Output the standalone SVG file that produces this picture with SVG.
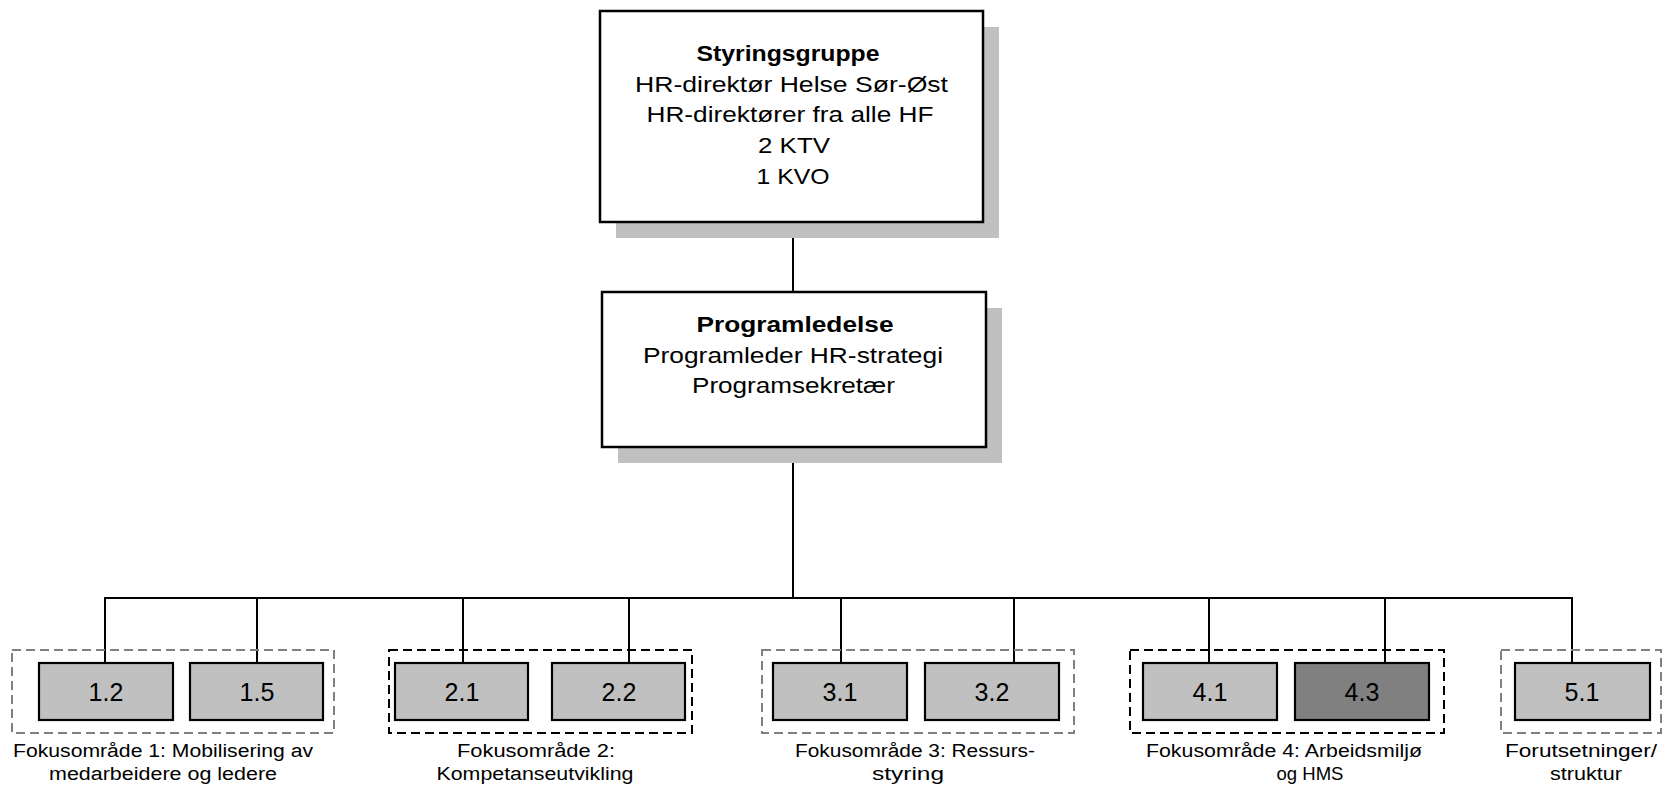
<svg xmlns="http://www.w3.org/2000/svg" width="1663" height="790" viewBox="0 0 1663 790">
<style>
.shadow{fill:#C0C0C0;stroke:none}
.big{fill:#FFFFFF;stroke:#000;stroke-width:2.5}
.small{fill:#C0C0C0;stroke:#000;stroke-width:2.2}
.dark{fill:#808080;stroke:#000;stroke-width:2.2}
.grpG{fill:none;stroke:#808080;stroke-width:2;stroke-dasharray:9 5}
.grpK{fill:none;stroke:#000;stroke-width:2;stroke-dasharray:9 5}
.conn{fill:none;stroke:#000;stroke-width:2}
text{font-family:"Liberation Sans",Arial,sans-serif;fill:#000;text-anchor:middle}
.t22{font-size:22px}
.b22{font-size:22px;font-weight:bold}
.t18{font-size:18px}
.t24{font-size:25px}
</style>
<rect width="1663" height="790" fill="#FFFFFF"/>
<g id="connectors">
<line class="conn" x1="793" y1="222" x2="793" y2="292"/>
<line class="conn" x1="793" y1="447" x2="793" y2="598"/>
<line class="conn" x1="104" y1="598" x2="1573" y2="598"/>
<line class="conn" x1="105" y1="598" x2="105" y2="663"/>
<line class="conn" x1="257" y1="598" x2="257" y2="663"/>
<line class="conn" x1="463" y1="598" x2="463" y2="663"/>
<line class="conn" x1="629" y1="598" x2="629" y2="663"/>
<line class="conn" x1="841" y1="598" x2="841" y2="663"/>
<line class="conn" x1="1014" y1="598" x2="1014" y2="663"/>
<line class="conn" x1="1209" y1="598" x2="1209" y2="663"/>
<line class="conn" x1="1385" y1="598" x2="1385" y2="663"/>
<line class="conn" x1="1572" y1="598" x2="1572" y2="663"/>
</g>
<g id="styringsgruppe">
<rect class="shadow" x="616" y="27" width="383" height="211"/>
<rect class="big" x="600" y="11" width="383" height="211"/>
<text class="b22" x="788" y="61" textLength="183" lengthAdjust="spacingAndGlyphs">Styringsgruppe</text>
<text class="t22" x="791.5" y="92" textLength="313" lengthAdjust="spacingAndGlyphs">HR-direktør Helse Sør-Øst</text>
<text class="t22" x="790" y="122" textLength="287" lengthAdjust="spacingAndGlyphs">HR-direktører fra alle HF</text>
<text class="t22" x="794" y="153" textLength="72" lengthAdjust="spacingAndGlyphs">2 KTV</text>
<text class="t22" x="793" y="184" textLength="73" lengthAdjust="spacingAndGlyphs">1 KVO</text>
</g>
<g id="programledelse">
<rect class="shadow" x="618" y="308" width="384" height="155"/>
<rect class="big" x="602" y="292" width="384" height="155"/>
<text class="b22" x="795" y="332" textLength="197" lengthAdjust="spacingAndGlyphs">Programledelse</text>
<text class="t22" x="793" y="363" textLength="300" lengthAdjust="spacingAndGlyphs">Programleder HR-strategi</text>
<text class="t22" x="793.5" y="393" textLength="203" lengthAdjust="spacingAndGlyphs">Programsekretær</text>
</g>
<g id="fokus1">
<rect class="grpG" x="12" y="650" width="322" height="83"/>
<text class="t18" x="163" y="757" textLength="300" lengthAdjust="spacingAndGlyphs">Fokusområde 1: Mobilisering av</text>
<text class="t18" x="163" y="780" textLength="228" lengthAdjust="spacingAndGlyphs">medarbeidere og ledere</text>
</g>
<g id="n1-2"><rect class="small" x="39" y="663" width="134" height="57"/><text class="t24" x="106" y="701">1.2</text></g>
<g id="n1-5"><rect class="small" x="190" y="663" width="133" height="57"/><text class="t24" x="257" y="701">1.5</text></g>
<g id="fokus2">
<rect class="grpK" x="389" y="650" width="303" height="83"/>
<text class="t18" x="536" y="757" textLength="158" lengthAdjust="spacingAndGlyphs">Fokusområde 2:</text>
<text class="t18" x="535" y="780" textLength="197" lengthAdjust="spacingAndGlyphs">Kompetanseutvikling</text>
</g>
<g id="n2-1"><rect class="small" x="395" y="663" width="133" height="57"/><text class="t24" x="462" y="701">2.1</text></g>
<g id="n2-2"><rect class="small" x="552" y="663" width="133" height="57"/><text class="t24" x="619" y="701">2.2</text></g>
<g id="fokus3">
<rect class="grpG" x="762" y="650" width="312" height="83"/>
<text class="t18" x="915" y="757" textLength="240" lengthAdjust="spacingAndGlyphs">Fokusområde 3: Ressurs-</text>
<text class="t18" x="908" y="780" textLength="72" lengthAdjust="spacingAndGlyphs">styring</text>
</g>
<g id="n3-1"><rect class="small" x="773" y="663" width="134" height="57"/><text class="t24" x="840" y="701">3.1</text></g>
<g id="n3-2"><rect class="small" x="925" y="663" width="134" height="57"/><text class="t24" x="992" y="701">3.2</text></g>
<g id="fokus4">
<rect class="grpK" x="1130" y="650" width="314" height="83"/>
<text class="t18" x="1284" y="757" textLength="276" lengthAdjust="spacingAndGlyphs">Fokusområde 4: Arbeidsmiljø</text>
<text class="t18" x="1310" y="780" textLength="67" lengthAdjust="spacingAndGlyphs">og HMS</text>
</g>
<g id="n4-1"><rect class="small" x="1143" y="663" width="134" height="57"/><text class="t24" x="1210" y="701">4.1</text></g>
<g id="n4-3"><rect class="dark" x="1295" y="663" width="134" height="57"/><text class="t24" x="1362" y="701">4.3</text></g>
<g id="fokus5">
<rect class="grpG" x="1501" y="650" width="160" height="83"/>
<text class="t18" x="1581" y="757" textLength="152" lengthAdjust="spacingAndGlyphs">Forutsetninger/</text>
<text class="t18" x="1586" y="780" textLength="72" lengthAdjust="spacingAndGlyphs">struktur</text>
</g>
<g id="n5-1"><rect class="small" x="1515" y="663" width="135" height="57"/><text class="t24" x="1582" y="701">5.1</text></g>
</svg>
